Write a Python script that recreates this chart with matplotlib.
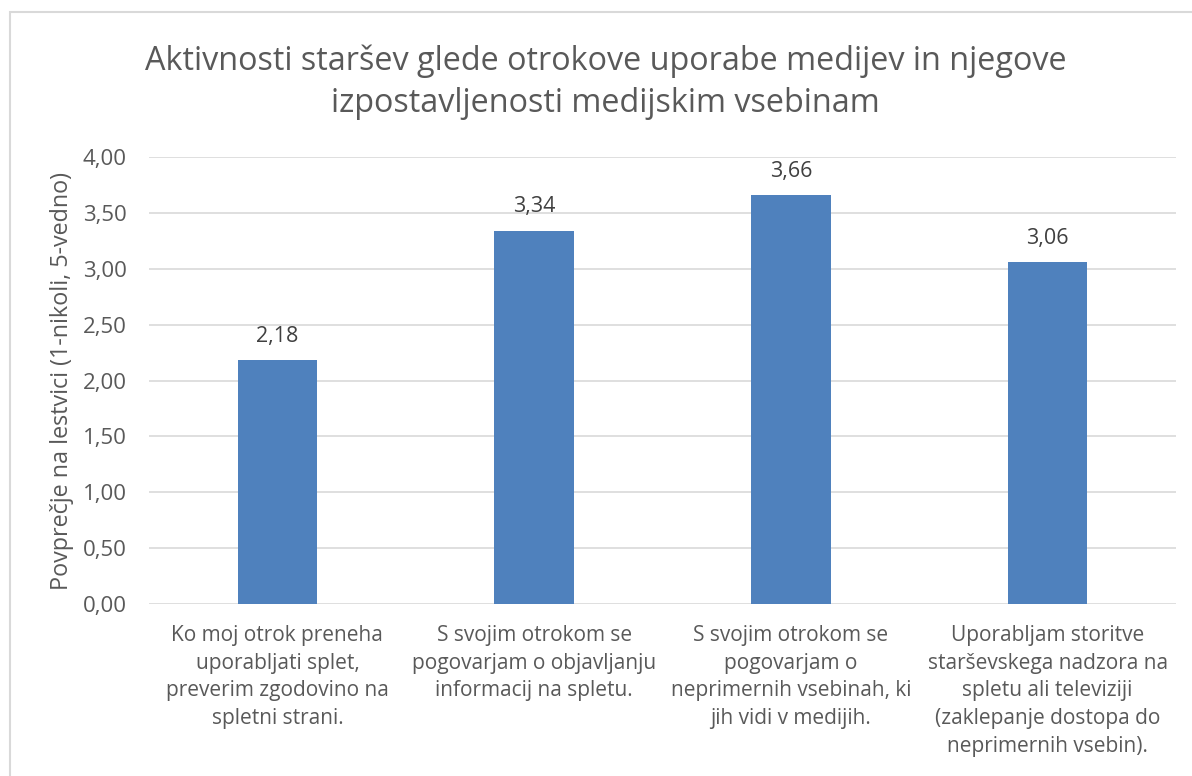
import numpy as np
import matplotlib.pyplot as plt
from matplotlib.patches import Rectangle

# DATA
categories = [
    "Ko moj otrok preneha\nuporabljati splet,\npreverim zgodovino na\nspletni strani.",
    "S svojim otrokom se\npogovarjam o objavljanju\ninformacij na spletu.",
    "S svojim otrokom se\npogovarjam o\nneprimernih vsebinah, ki\njih vidi v medijih.",
    "Uporabljam storitve\nstarševskega nadzora na\nspletu ali televiziji\n(zaklepanje dostopa do\nneprimernih vsebin).",
]
values = [2.18, 3.34, 3.66, 3.06]
y_ticks = [0.0, 0.5, 1.0, 1.5, 2.0, 2.5, 3.0, 3.5, 4.0]

title = "Aktivnosti staršev glede otrokove uporabe medijev in njegove\nizpostavljenosti medijskim vsebinam"
y_label = "Povprečje na lestvici (1-nikoli, 5-vedno)"

TEXT_COLOR = "#595959"
BAR_COLOR = "#4f81bd"
GRID_COLOR = "#d9d9d9"

plt.rcParams['font.family'] = ['Open Sans', 'DejaVu Sans']


def fmt(v: float) -> str:
    return f"{v:.2f}".replace(".", ",")


def main() -> None:
    fig = plt.figure(figsize=(11.92, 7.76), dpi=100)
    W, H = 1192, 776

    # chart border (cropped on the right and bottom)
    fig.patches.append(Rectangle((10 / W, -0.05), 1.2, (H - 12) / H + 0.05,
                                 transform=fig.transFigure, fill=False,
                                 edgecolor=GRID_COLOR, linewidth=1.5))

    ax = fig.add_axes([149 / W, 1 - 604 / H, (1176 - 149) / W, (604 - 157) / H])
    x = np.arange(len(values))
    ax.bar(x, values, width=0.31, color=BAR_COLOR, zorder=3)

    for xi, v in zip(x, values):
        ax.text(xi, v + 0.12, fmt(v), ha='center', va='bottom',
                fontsize=15.5, color='#404040')

    ax.set_xlim(-0.5, len(values) - 0.5)
    ax.set_ylim(0, 4)
    ax.set_yticks(y_ticks)
    ax.set_yticklabels([fmt(t) for t in y_ticks])
    ax.set_xticks(x)
    ax.set_xticklabels(categories, linespacing=1.42)
    ax.tick_params(axis='both', length=0, colors=TEXT_COLOR, labelsize=15)
    ax.tick_params(axis='y', labelsize=16, pad=16)
    ax.tick_params(axis='x', pad=15)
    ax.grid(axis='y', color=GRID_COLOR, linewidth=1.2, zorder=0)
    for s in ax.spines.values():
        s.set_visible(False)

    ax.set_ylabel(y_label, fontsize=16.8, color=TEXT_COLOR, labelpad=6)

    fig.text(0.508, 1 - 44 / H, title, ha='center', va='top', fontsize=23.3,
             color=TEXT_COLOR, linespacing=1.38)

    fig.savefig("out.png", dpi=100)


if __name__ == "__main__":
    main()
